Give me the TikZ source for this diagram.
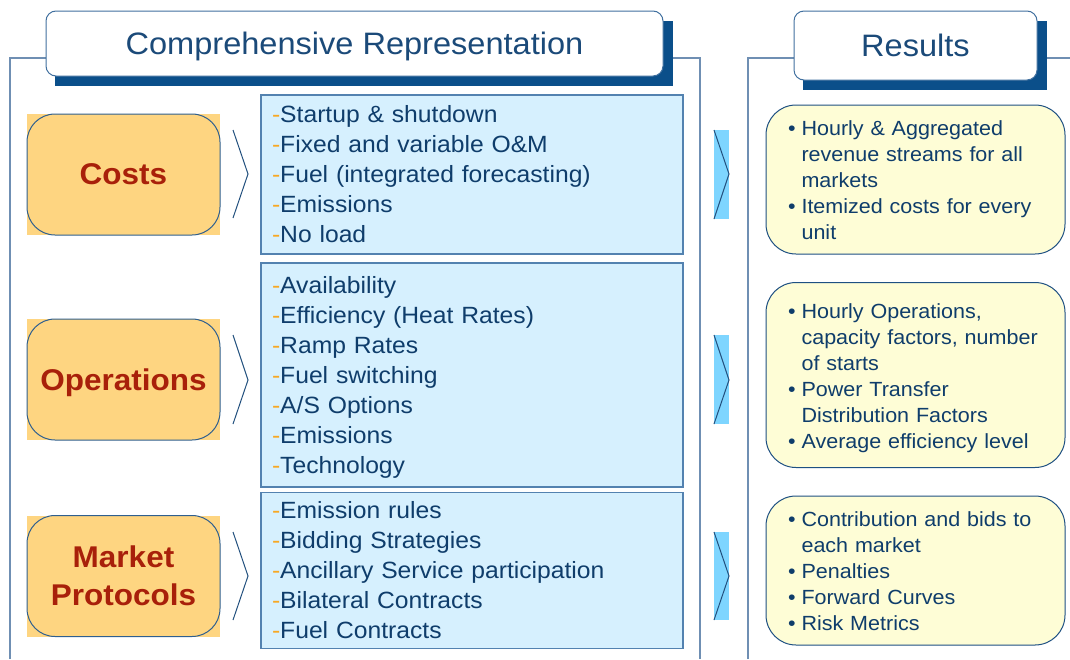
\documentclass[tikz,border=0pt]{standalone}
\usepackage{fontspec}
\setmainfont{Liberation Sans}[FakeStretch=1.05]
\usetikzlibrary{calc}

\definecolor{framegray}{HTML}{6F8FB3}
\definecolor{titleborder}{HTML}{41709F}
\definecolor{shadowblue}{HTML}{0B4F8A}
\definecolor{titletext}{HTML}{1B4A79}
\definecolor{catorange}{HTML}{FED581}
\definecolor{catred}{HTML}{A8200A}
\definecolor{catborder}{HTML}{2F5F8F}
\definecolor{listblue}{HTML}{D6F0FE}
\definecolor{listborder}{HTML}{5382B0}
\definecolor{listtext}{HTML}{0F3D6B}
\definecolor{dashorange}{HTML}{F7A823}
\definecolor{chevblue}{HTML}{7ED5FF}
\definecolor{chevdark}{HTML}{22507E}
\definecolor{resyellow}{HTML}{FEFDD6}
\definecolor{resborder}{HTML}{1E5082}

\newcommand{\ldash}{\textcolor{dashorange}{-}}
% lower a block of text without changing its size
\newcommand{\droptext}[2]{\raisebox{-#1}[\height][\depth]{#2}}

\tikzset{
  frameline/.style={draw=framegray, line width=1.5pt},
  titleshadow/.style={fill=shadowblue},
  titlebox/.style={draw=titleborder, fill=white, rounded corners=10pt, line width=1pt,
    text=titletext, text depth=0pt, font=\fontsize{31}{36}\selectfont},
  catback/.style={fill=catorange, minimum width=193pt, minimum height=121pt, inner sep=0pt},
  catbox/.style={catback, draw=catborder, rounded corners=28pt, line width=1pt,
    text=catred, text depth=0pt, align=center, font=\fontsize{30}{38}\selectfont\bfseries},
  listbox/.style={draw=listborder, fill=listblue, line width=1.2pt, minimum width=422pt,
    text width=400pt, inner xsep=11pt, align=left, text=listtext,
    font=\fontsize{23.5}{30}\selectfont},
  chevline/.style={draw=chevdark, line width=1pt},
  chevfill/.style={fill=chevblue},
  resbox/.style={draw=resborder, fill=resyellow, rounded corners=30pt, line width=1pt,
    minimum width=299pt, text width=255pt, inner xsep=22pt, align=left, text=listtext,
    font=\fontsize{20.5}{26}\selectfont},
}

\begin{document}
\begin{tikzpicture}[x=1pt,y=-1pt]
\useasboundingbox (0,0) rectangle (1070,659);

% Frames
\draw[frameline] (10,659) -- (10,58) -- (700,58) -- (700,659);
\draw[frameline] (748,659) -- (748,58) -- (1070,58);

% Titles
\fill[titleshadow] (55,21) rectangle (673,86);
\node[titlebox, minimum width=617pt, minimum height=65pt] (compTitle) at (354.5,43.5) {Comprehensive Representation};
\fill[titleshadow] (803,21) rectangle (1047,90);
\node[titlebox, minimum width=243pt, minimum height=69pt] (resTitle) at (915.5,45.5) {Results};

% Costs
\node[catback] (costsBack) at (123.5,174.5) {};
\node[catbox] (costs) at (costsBack) {Costs};
\draw[chevline] (233,130) -- (248,174) -- (233,218);
\node[listbox, minimum height=159pt] (costsList) at (472,174.5) {\droptext{2pt}{%
  \begin{tabular}{@{}l@{}}
  \ldash Startup \& shutdown\\
  \ldash Fixed and variable O\&M\\
  \ldash Fuel (integrated forecasting)\\
  \ldash Emissions\\
  \ldash No load
  \end{tabular}}};
\fill[chevfill] (714,130) rectangle (729,219);
\draw[chevline] (714,130) -- (729,174) -- (714,219);
\node[resbox, minimum height=149pt] (costsRes) at (915.5,179.5) {\droptext{3pt}{%
  \begin{tabular}{@{}l@{\hspace{6pt}}l@{}}
  \textbullet & Hourly \& Aggregated\\
   & revenue streams for all\\
   & markets\\
  \textbullet & Itemized costs for every\\
   & unit
  \end{tabular}}};

% Operations
\node[catback] (opsBack) at (123.5,379.5) {};
\node[catbox] (ops) at (opsBack) {Operations};
\draw[chevline] (233,335) -- (248,380) -- (233,424);
\node[listbox, minimum height=224pt] (opsList) at (472,375) {\droptext{2pt}{%
  \begin{tabular}{@{}l@{}}
  \ldash Availability\\
  \ldash Efficiency (Heat Rates)\\
  \ldash Ramp Rates\\
  \ldash Fuel switching\\
  \ldash A/S Options\\
  \ldash Emissions\\
  \ldash Technology
  \end{tabular}}};
\fill[chevfill] (714,335) rectangle (729,424);
\draw[chevline] (714,335) -- (729,380) -- (714,424);
\node[resbox, minimum height=185pt] (opsRes) at (915.5,375) {\droptext{3pt}{%
  \begin{tabular}{@{}l@{\hspace{6pt}}l@{}}
  \textbullet & Hourly Operations,\\
   & capacity factors, number\\
   & of starts\\
  \textbullet & Power Transfer\\
   & Distribution Factors\\
  \textbullet & Average efficiency level
  \end{tabular}}};

% Market Protocols
\node[catback] (mktBack) at (123.5,576) {};
\node[catbox] (mkt) at (mktBack) {Market\\Protocols};
\draw[chevline] (233,532) -- (248,576) -- (233,620);
\node[listbox, minimum height=149pt] (mktList) at (472,570.5) {\droptext{2pt}{%
  \begin{tabular}{@{}l@{}}
  \ldash Emission rules\\
  \ldash Bidding Strategies\\
  \ldash Ancillary Service participation\\
  \ldash Bilateral Contracts\\
  \ldash Fuel Contracts
  \end{tabular}}};
\fill[chevfill] (714,532) rectangle (729,620);
\draw[chevline] (714,532) -- (729,576) -- (714,620);
\node[resbox, minimum height=149pt] (mktRes) at (915.5,570.5) {\droptext{3pt}{%
  \begin{tabular}{@{}l@{\hspace{6pt}}l@{}}
  \textbullet & Contribution and bids to\\
   & each market\\
  \textbullet & Penalties\\
  \textbullet & Forward Curves\\
  \textbullet & Risk Metrics
  \end{tabular}}};

\end{tikzpicture}
\end{document}
